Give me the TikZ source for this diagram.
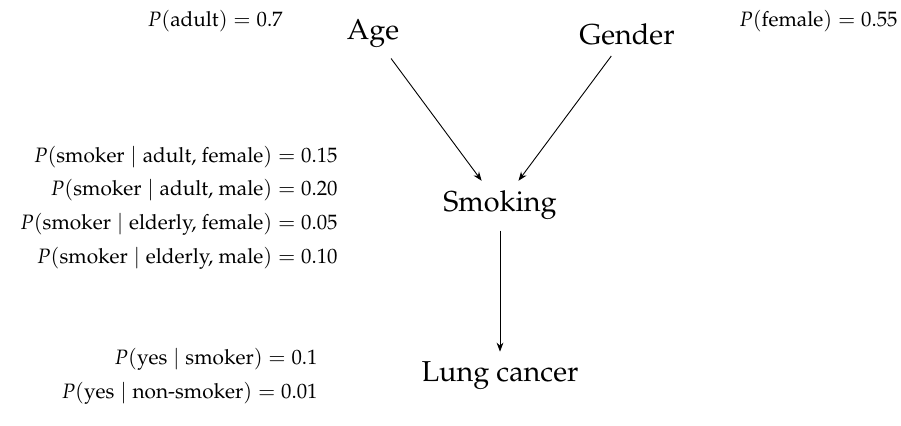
\documentclass[tikz,border=0pt]{standalone}
\usepackage[T1]{fontenc}
\usepackage{mathpazo}
\usepackage{amsmath}
\usetikzlibrary{positioning, arrows.meta}

\begin{document}
\begin{tikzpicture}[
		x=0.5pt, y=-0.5pt,
		var/.style={font=\Large, inner sep=5pt, anchor=base},
		cpt/.style={font=\fontsize{10.4}{12}\selectfont, inner sep=0pt, anchor=base east},
		edge/.style={-{Stealth[length=4.5pt, width=3.4pt]}, line width=0.45pt},
	]
	\useasboundingbox (0,0) rectangle (901,426);

	% variables
	\node[var] (age) at (373,40) {Age};
	\node[var] (gender) at (627,45) {Gender};
	\node[var] (smoking) at (500,212) {Smoking};
	\node[var] (cancer) at (500,382) {Lung cancer};

	% edges
	\draw[edge] (age) -- (smoking);
	\draw[edge] (gender) -- (smoking);
	\draw[edge] (smoking) -- (cancer);

	% priors
	\node[cpt] (padult) at (283,27) {$P(\text{adult}) = 0.7$};
	\node[cpt] (pfemale) at (898,27) {$P(\text{female}) = 0.55$};

	% smoking table
	\node[cpt] (s1) at (338,163) {$P(\text{smoker} \mid \text{adult, female}) = 0.15$};
	\node[cpt] (s2) at (338,196) {$P(\text{smoker} \mid \text{adult, male}) = 0.20$};
	\node[cpt] (s3) at (338,230) {$P(\text{smoker} \mid \text{elderly, female}) = 0.05$};
	\node[cpt] (s4) at (338,264) {$P(\text{smoker} \mid \text{elderly, male}) = 0.10$};

	% cancer table
	\node[cpt] (c1) at (318,365) {$P(\text{yes} \mid \text{smoker}) = 0.1$};
	\node[cpt] (c2) at (318,399) {$P(\text{yes} \mid \text{non-smoker}) = 0.01$};
\end{tikzpicture}
\end{document}
